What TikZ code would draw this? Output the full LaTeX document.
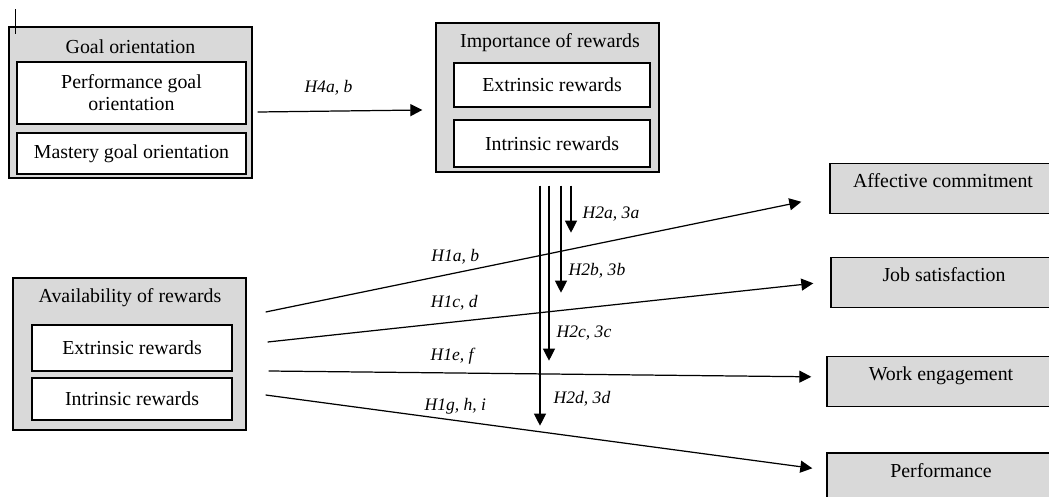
\documentclass[tikz,border=0pt]{standalone}
\usepackage{fontspec}
\setmainfont{Liberation Serif}
\usetikzlibrary{positioning, arrows.meta, calc}
\tikzset{
	every edge/.style={
		draw, -{Triangle[length=0.24cm,width=0.24cm]}, line width=0.7pt
	}
}
\definecolor{boxgray}{gray}{0.85}

\begin{document}
\begin{tikzpicture}[x=0.02cm, y=-0.02cm,
	outer/.style={draw, line width=0.8pt, fill=boxgray},
	inner/.style={draw, line width=0.8pt, fill=white, align=center, font=\fontsize{11.3}{12.6}\selectfont},
	title/.style={font=\fontsize{11.3}{12.6}\selectfont},
	outcome/.style={draw, line width=0.8pt, fill=boxgray, inner ysep=0pt, text height=0.48cm, text depth=0.52cm, font=\fontsize{11.3}{12.6}\selectfont},
	hyp/.style={font=\fontsize{10}{12}\selectfont\itshape, inner sep=0pt}]
	\useasboundingbox (0,0) rectangle (1049,497);
	\clip (0,0) rectangle (1049,497);
	% goal orientation
	\node[outer, minimum width=4.86cm, minimum height=3.02cm] (goal) at (130.5,102.5) {};
	\node[title] (goalT) at (130.5,47) {Goal orientation};
	\node[inner, minimum width=4.58cm, minimum height=1.24cm] (pgo) at (131.5,93) {Performance goal\\orientation};
	\node[inner, minimum width=4.58cm, minimum height=0.82cm] (mgo) at (131.5,153.5) {Mastery goal orientation};
	\draw[line width=0.8pt] ($(goal.north west)+(7,-17)$) -- ($(goal.north west)+(7,8)$);
	% importance of rewards
	\node[outer, minimum width=4.46cm, minimum height=2.98cm] (imp) at (547.5,97.5) {};
	\node[title] (impT) at (550,43) {Importance of rewards};
	\node[inner, minimum width=3.92cm, minimum height=0.88cm] (impExt) at (552,85) {Extrinsic rewards};
	\node[inner, minimum width=3.92cm, minimum height=0.94cm] (impInt) at (552,143.5) {Intrinsic rewards};
	% availability of rewards
	\node[outer, minimum width=4.66cm, minimum height=3.04cm] (avail) at (129.5,354) {};
	\node[title] (availT) at (130,298) {Availability of rewards};
	\node[inner, minimum width=4cm, minimum height=0.92cm] (avExt) at (132,348) {Extrinsic rewards};
	\node[inner, minimum width=4cm, minimum height=0.84cm] (avInt) at (132,399) {Intrinsic rewards};
	% outcomes
	\node[outcome, minimum width=4.52cm] (aff) at (943,188.5) {Affective commitment};
	\node[outcome, minimum width=4.52cm] (job) at (944,282.5) {Job satisfaction};
	\node[outcome, minimum width=4.56cm] (work) at (941,381.5) {Work engagement};
	\node[outcome, minimum width=4.56cm] (perfo) at (941,478) {Performance};
	% hypotheses
	\draw ($(goal.east)+(5,9.5)$) edge node[hyp, pos=.43, yshift=0.46cm] {H4a, b} ($(imp.west)+(-13,12.5)$);
	\draw ($(imp.south)+(23.5,13)$) edge node[hyp, pos=.6, xshift=0.8cm] {H2a, 3a} ($(imp.south)+(23.5,60)$);
	\draw ($(imp.south)+(13.5,13)$) edge node[hyp, pos=.794, xshift=0.72cm] {H2b, 3b} ($(imp.south)+(13.5,120)$);
	\draw ($(imp.south)+(1.5,13)$) edge node[hyp, pos=.84, xshift=0.7cm] {H2c, 3c} ($(imp.south)+(1.5,188)$);
	\draw ($(imp.south)+(-7.5,13)$) edge node[hyp, pos=.8875, xshift=0.84cm] {H2d, 3d} ($(imp.south)+(-7.5,253)$);
	\draw ($(avail.east)+(19,-42)$) edge node[hyp, pos=.354, yshift=0.32cm] {H1a, b} ($(aff.north west)+(-28,39)$);
	\draw ($(avail.east)+(21,-12)$) edge node[hyp, pos=.342, yshift=0.39cm] {H1c, d} ($(job.north west)+(-17,26.5)$);
	\draw ($(avail.east)+(22,17)$) edge node[hyp, pos=.338, yshift=0.34cm] {H1e, f} ($(work.north west)+(-15,21)$);
	\draw ($(avail.east)+(19,41)$) edge node[hyp, pos=.347, yshift=0.28cm] {H1g, h, i} ($(perfo.north west)+(-14,16)$);
\end{tikzpicture}
\end{document}
